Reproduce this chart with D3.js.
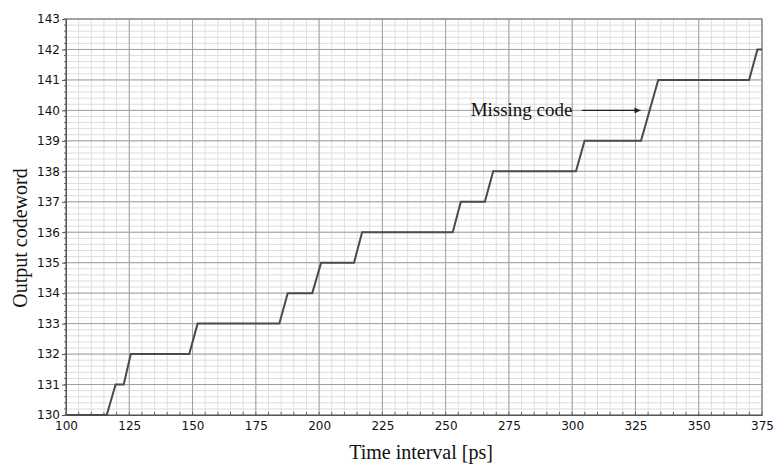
<!DOCTYPE html>
<html>
<head>
<meta charset="utf-8">
<script src="https://cdn.jsdelivr.net/npm/d3@7"></script>
<style>
html,body{margin:0;padding:0;background:#fff;}
svg{display:block;}
</style>
</head>
<body>
<svg id="chart" width="780" height="465"></svg>
<script>
// Step transfer curve: time interval [ps] vs output codeword
const timePs = [100, 116.1, 119.6, 122.8, 125.6, 148.7, 152.0, 184.3, 187.6, 197.3, 200.8, 213.8, 217.0, 252.8, 256.0, 265.5, 268.8, 301.5, 304.9, 327.2, 334.0, 369.9, 373.2, 375];
const codeword = [130, 130, 131, 131, 132, 132, 133, 133, 134, 134, 135, 135, 136, 136, 137, 137, 138, 138, 139, 139, 141, 141, 142, 142];
const xTicks = [100, 125, 150, 175, 200, 225, 250, 275, 300, 325, 350, 375];
const yTicks = [130, 131, 132, 133, 134, 135, 136, 137, 138, 139, 140, 141, 142, 143];
const annotation = {text: "Missing code", fromX: 303.9, toX: 327.0, y: 140, textX: 280.0};

const svg = d3.select("#chart");
const L = 66, R = 762, T = 19, B = 415;
const x = d3.scaleLinear().domain([100, 375]).range([L, R]);
const y = d3.scaleLinear().domain([130, 143]).range([B, T]);

const minorX = d3.range(100, 375.01, 5);
const minorY = d3.range(130, 143.001, 0.2);

const g = svg.append("g");
// minor grid
g.selectAll(".mx").data(minorX).enter().append("line")
  .attr("x1", d => x(d)).attr("x2", d => x(d)).attr("y1", T).attr("y2", B)
  .attr("stroke", "#dedede").attr("stroke-width", 1);
g.selectAll(".my").data(minorY).enter().append("line")
  .attr("y1", d => y(d)).attr("y2", d => y(d)).attr("x1", L).attr("x2", R)
  .attr("stroke", "#dedede").attr("stroke-width", 1);
// major grid
g.selectAll(".Mx").data(xTicks).enter().append("line")
  .attr("x1", d => x(d)).attr("x2", d => x(d)).attr("y1", T).attr("y2", B)
  .attr("stroke", "#a0a0a0").attr("stroke-width", 1);
g.selectAll(".My").data(yTicks).enter().append("line")
  .attr("y1", d => y(d)).attr("y2", d => y(d)).attr("x1", L).attr("x2", R)
  .attr("stroke", "#a0a0a0").attr("stroke-width", 1);

// frame
g.append("rect").attr("x", L).attr("y", T).attr("width", R - L).attr("height", B - T)
  .attr("fill", "none").attr("stroke", "#888").attr("stroke-width", 1.2);

// axes
const xAxis = d3.axisBottom(x).tickValues(xTicks).tickSize(0).tickPadding(6);
const yAxis = d3.axisLeft(y).tickValues(yTicks).tickSize(4).tickPadding(2);
const gx = svg.append("g").attr("transform", `translate(0,${B})`).call(xAxis);
const gy = svg.append("g").attr("transform", `translate(${L},0)`).call(yAxis);
[gx, gy].forEach(a => {
  a.select(".domain").attr("stroke", "#555");
  a.selectAll(".tick line").attr("stroke", "#555");
  a.selectAll("text").attr("font-family", "DejaVu Sans, sans-serif")
    .attr("font-size", 12).attr("fill", "#111");
});
// minor ticks
svg.append("g").selectAll("line").data(minorX).enter().append("line")
  .attr("x1", d => x(d)).attr("x2", d => x(d)).attr("y1", B).attr("y2", B - 3)
  .attr("stroke", "#666");
svg.append("g").selectAll("line").data(minorY).enter().append("line")
  .attr("y1", d => y(d)).attr("y2", d => y(d)).attr("x1", L).attr("x2", L - 2)
  .attr("stroke", "#666");

// data line
const pts = timePs.map((t, i) => [t, codeword[i]]);
svg.append("path").datum(pts)
  .attr("d", d3.line().x(d => x(d[0])).y(d => y(d[1])))
  .attr("fill", "none").attr("stroke", "#4a4a4a").attr("stroke-width", 2)
  .attr("stroke-linejoin", "miter");

// annotation
svg.append("defs").append("marker").attr("id", "arr")
  .attr("viewBox", "0 0 10 10").attr("refX", 10).attr("refY", 5)
  .attr("markerWidth", 7).attr("markerHeight", 6).attr("orient", "auto")
  .attr("markerUnits", "userSpaceOnUse")
  .append("path").attr("d", "M0,0 L10,5 L0,10 Z").attr("fill", "#222");
svg.append("line")
  .attr("x1", x(annotation.fromX)).attr("x2", x(annotation.toX))
  .attr("y1", y(annotation.y)).attr("y2", y(annotation.y))
  .attr("stroke", "#222").attr("stroke-width", 1.2).attr("marker-end", "url(#arr)");
svg.append("text").attr("x", x(annotation.textX)).attr("y", y(annotation.y) + 6)
  .attr("text-anchor", "middle").attr("font-family", "Liberation Serif, serif")
  .attr("font-size", 19).attr("fill", "#111").text(annotation.text);

// axis titles
svg.append("text").attr("x", (L + R) / 2 + 7).attr("y", 459)
  .attr("text-anchor", "middle").attr("font-family", "Liberation Serif, serif")
  .attr("font-size", 20).attr("fill", "#111").text("Time interval [ps]");
svg.append("text").attr("transform", "translate(27,238) rotate(-90)")
  .attr("text-anchor", "middle").attr("font-family", "Liberation Serif, serif")
  .attr("font-size", 20).attr("fill", "#111").text("Output codeword");
</script>
</body>
</html>
